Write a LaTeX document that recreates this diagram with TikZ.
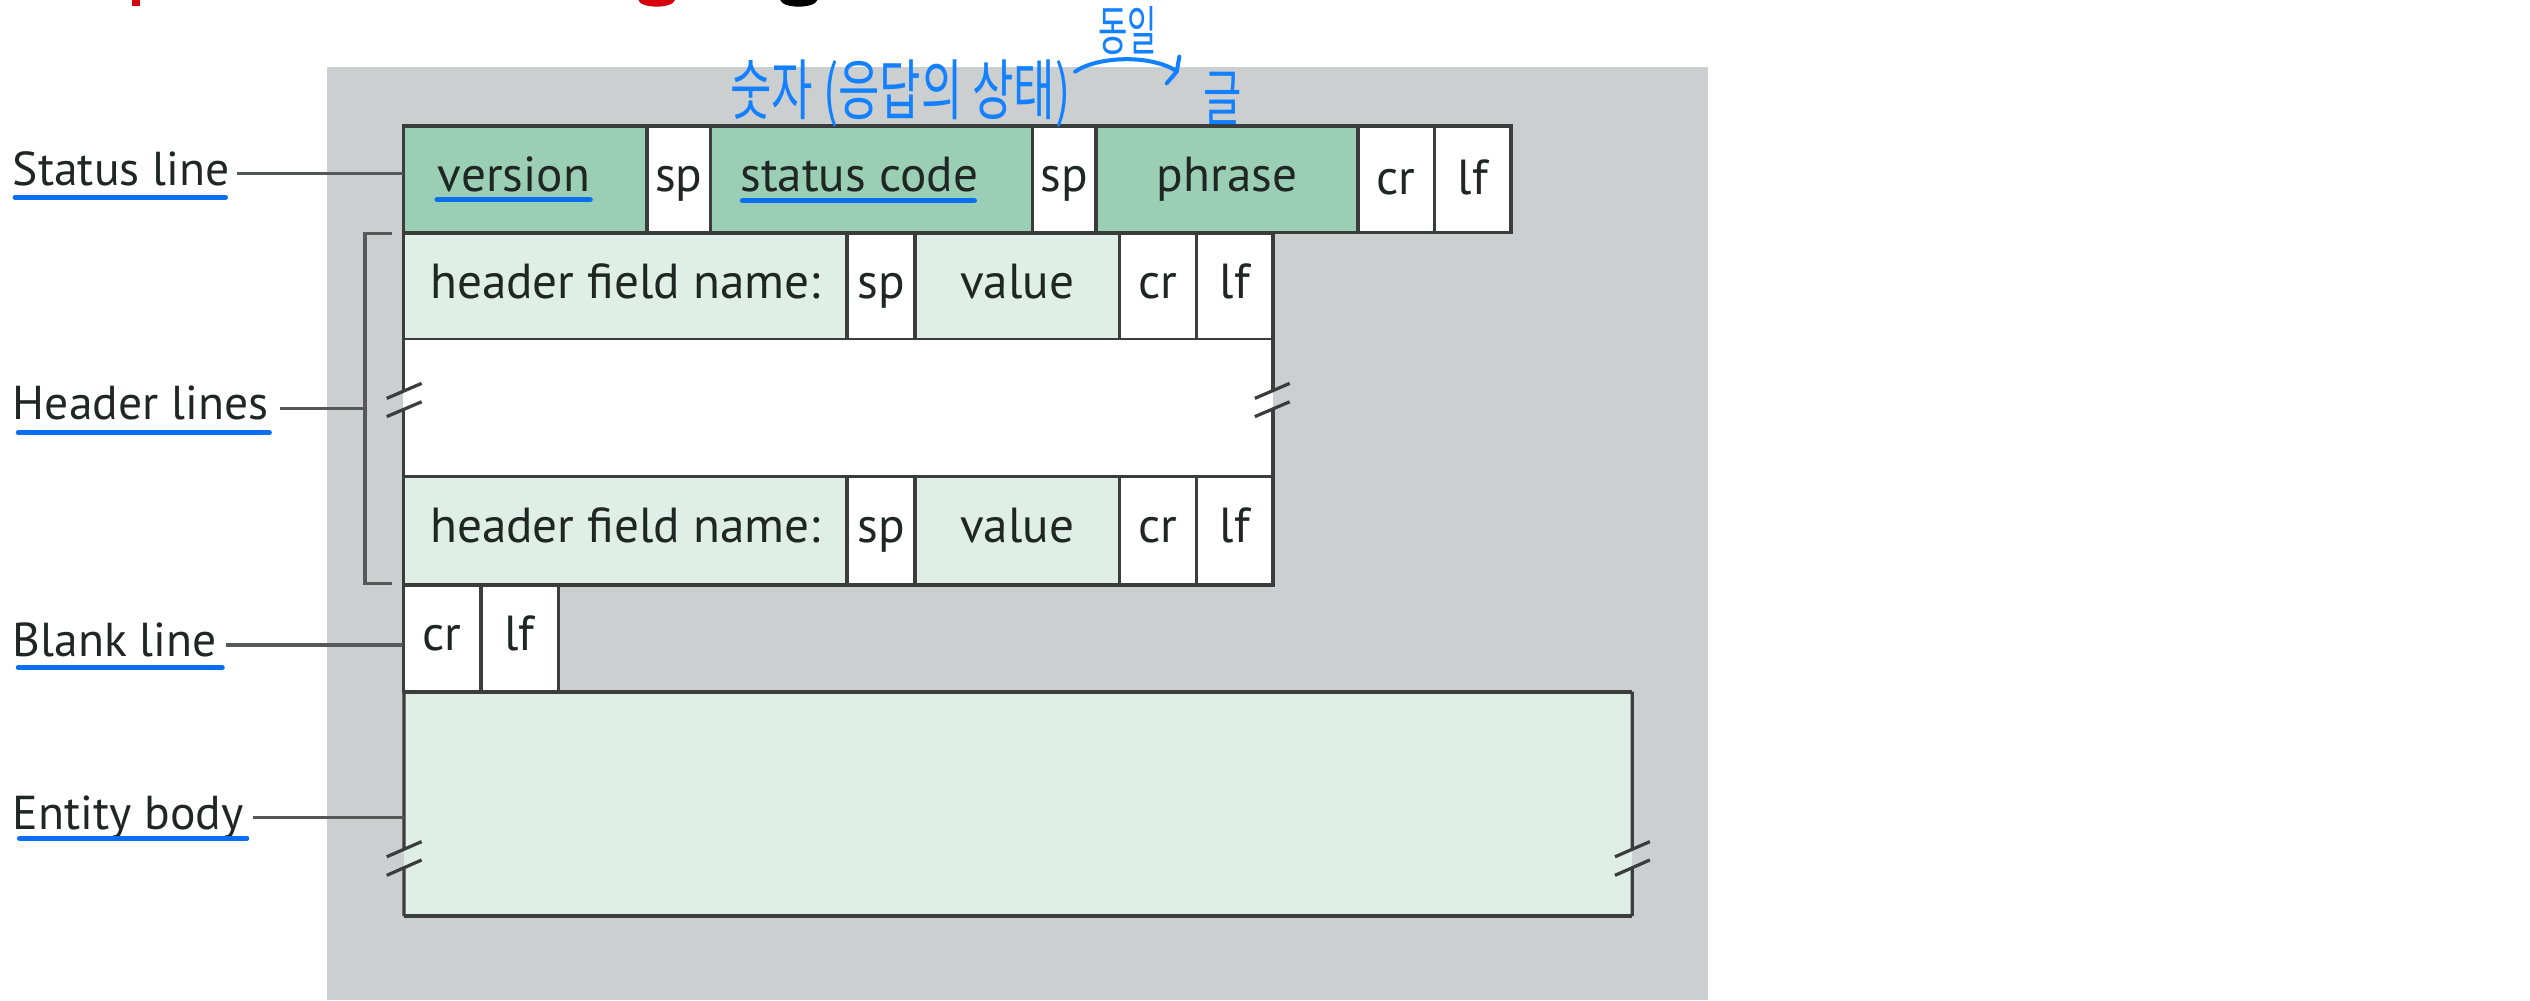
\documentclass[tikz,border=0pt]{standalone}
\usepackage{fontspec}
\setmainfont{PT Sans}
\newfontfamily\kr{Noto Sans CJK KR}
\definecolor{bggray}{HTML}{CBCFD0}
\definecolor{dgreen}{HTML}{9BCFB5}
\definecolor{lgreen}{HTML}{DFEEE7}
\definecolor{edgec}{HTML}{3A3D3C}
\definecolor{ink}{HTML}{1F2623}
\definecolor{penc}{HTML}{1380FF}
\definecolor{ulinec}{HTML}{0A6EF2}
\definecolor{lblc}{HTML}{555857}
\definecolor{titlered}{HTML}{D7000F}
\begin{document}
\begin{tikzpicture}[x=1pt,y=-1pt,
  cell/.style={draw=edgec,line width=2.2pt,inner sep=0pt,outer sep=0pt,
    font=\fontsize{30.5}{36}\selectfont,
    text height=22pt,text depth=7pt,text=ink,anchor=center},
  dk/.style={cell,fill=dgreen},
  lt/.style={cell,fill=lgreen},
  wh/.style={cell,fill=white},
  low/.style={text height=24pt,text depth=5pt},
  lab/.style={inner sep=0pt,outer sep=0pt,font=\fontsize{29.5}{35}\selectfont,
    text height=22pt,text depth=7.5pt,text=ink,anchor=base west},
  lblline/.style={draw=lblc,line width=2pt},
  uline/.style={draw=ulinec,line width=3pt,line cap=round},
  pen/.style={draw=penc,line width=2.5pt,line cap=round,line join=round},
  brkline/.style={draw=edgec,line width=2pt},
  hand/.style={text=penc,inner sep=0pt,outer sep=0pt}]
\useasboundingbox (0,0) rectangle (1568,620);
% title fragments (cut off at top)
\fill[titlered] (81.7,0) rectangle (86.8,3.5);
\fill[titlered] (395.6,0) .. controls (397,5.5) and (417,5.5) .. (418.3,0) -- cycle;
\fill[black] (483.6,0) .. controls (485,5.5) and (505,5.5) .. (506.6,0) -- cycle;
% gray background
\fill[bggray] (202.8,41.3) rectangle (1058.6,620);
% status line
\node[dk,minimum width=151,minimum height=66] (ver) at (325.5,111) {version\hspace*{14pt}};
\node[wh,minimum width=39.4,minimum height=66] (sp1) at (420.7,111) {sp};
\node[dk,minimum width=199.4,minimum height=66] (sc) at (540.1,111) {status code\hspace*{15pt}};
\node[wh,minimum width=39.6,minimum height=66] (sp2) at (659.6,111) {sp};
\node[dk,minimum width=162.2,minimum height=66] (ph) at (760.5,111) {phrase};
\node[wh,low,minimum width=47.4,minimum height=66] (cr0) at (865.3,111) {cr};
\node[wh,low,minimum width=47.5,minimum height=66] (lf0) at (912.75,111) {lf};
% header line 1
\node[lt,minimum width=275,minimum height=66.1] (hna) at (387.5,177.65) {header field name:};
\node[wh,minimum width=42,minimum height=66.1] (hspa) at (546,177.65) {sp};
\node[lt,minimum width=126.7,minimum height=66.1] (hva) at (630.35,177.65) {value};
\node[wh,minimum width=47.9,minimum height=66.1] (hcra) at (717.65,177.65) {cr};
\node[wh,minimum width=47.4,minimum height=66.1] (hlfa) at (765.3,177.65) {lf};
% gap row
\node[fill=white,inner sep=0pt,outer sep=0pt,minimum width=539,minimum height=84.7] (gap) at (519.5,253.05) {};
\draw[brkline] (gap.north west) -- (250,242.5) (250,253.8) -- (gap.south west);
\draw[brkline] (gap.north east) -- (789,242.5) (789,253.8) -- (gap.south east);
\draw[brkline] (239.7,246.9) -- (261.3,237.6) (239.7,258.2) -- (261.3,249);
\draw[brkline] (777.7,246.9) -- (799.3,237.6) (777.7,258.2) -- (799.3,249);
% header line 2
\node[lt,minimum width=275,minimum height=67.2] (hnb) at (387.5,329) {header field name:};
\node[wh,minimum width=42,minimum height=67.2] (hspb) at (546,329) {sp};
\node[lt,minimum width=126.7,minimum height=67.2] (hvb) at (630.35,329) {value};
\node[wh,minimum width=47.9,minimum height=67.2] (hcrb) at (717.65,329) {cr};
\node[wh,minimum width=47.4,minimum height=67.2] (hlfb) at (765.3,329) {lf};
% blank line
\node[wh,minimum width=48,minimum height=66.1] (bcr) at (274,395.65) {cr};
\node[wh,minimum width=48,minimum height=66.1] (blf) at (322,395.65) {lf};
% entity body
\node[fill=lgreen,inner sep=0pt,outer sep=0pt,minimum width=761.2,minimum height=139] (body) at (631,498.2) {};
\draw[edgec,line width=2.6pt] (body.north west) -- (body.north east);
\draw[edgec,line width=2.6pt] (body.south west) -- (body.south east);
\draw[brkline] (body.north west) -- (250.4,526.5) (250.4,538) -- (body.south west);
\draw[brkline] (body.north east) -- (1011.6,526.5) (1011.6,538) -- (body.south east);
\draw[brkline] (239.7,531) -- (261.3,521.6) (239.7,542.5) -- (261.3,533);
\draw[brkline] (1000.9,531) -- (1022.5,521.6) (1000.9,542.5) -- (1022.5,533);
% bracket for header lines
\coordinate (brk) at (226.2,253.5);
\draw[lblline] (242.8,144.6) -- (226.2,144.6) -- (226.2,361.5) -- (242.8,361.5);
% labels
\node[lab] (lsl) at (8,114.7) {Status line};
\node[lab] (lhl) at (8,260.3) {Header lines};
\node[lab] (lbl) at (8,407) {Blank line};
\node[lab] (leb) at (8,513.9) {Entity body};
\draw[lblline] ([xshift=5pt]lsl.east) -- (lsl.east -| ver.west);
\draw[lblline] ([xshift=7pt]lhl.east) -- (lhl.east -| brk);
\draw[lblline] ([xshift=6pt]lbl.east) -- (lbl.east -| bcr.west);
\draw[lblline] ([xshift=6pt]leb.east) -- (leb.east -| body.west);
% blue underlines
\draw[uline] (9.3,122.3) -- (139.8,122.3);
\draw[uline] (270.8,123.8) -- (365.9,123.8);
\draw[uline] (460,124.3) -- (604,124.3);
\draw[uline] (11.3,268.2) -- (167,268.2);
\draw[uline] (11.3,413.8) -- (137.8,413.8);
\draw[uline] (12,519.6) -- (153,519.6);
% handwritten notes
\node[hand] (hw1) at (558,58) {\kr\fontsize{41}{46}\selectfont\scalebox{0.68}[1]{숫자 (응답의 상태)}};
\node[hand] (hw2) at (699,19) {\kr\fontsize{33}{38}\selectfont\scalebox{0.6}[1]{동일}};
\node[hand] (hw3) at (757.5,61) {\kr\fontsize{38}{42}\selectfont\scalebox{0.68}[1]{글}};
\coordinate (arA) at (666.3,44.4);
\coordinate (arB) at (728.8,43.8);
\draw[pen] (arA) .. controls (680,35) and (712,33.5) .. (arB);
\draw[pen] (730.9,35.1) -- (729.3,44.4) -- (723.1,51.6);
\end{tikzpicture}
\end{document}
